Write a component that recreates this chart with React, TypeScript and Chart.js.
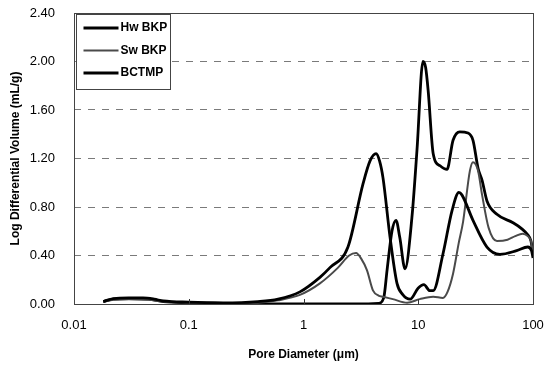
import React, { useEffect, useRef } from 'react';
import { Chart, registerables } from 'chart.js';

Chart.register(...registerables);

const seriesLabels = ['Hw BKP', 'Sw BKP', 'BCTMP'];
const seriesColors = ['#000000', '#4a4a4a', '#000000'];
const seriesWidths = [2.8, 2.0, 2.8];

const hwX = [0.018, 0.022, 0.03, 0.04, 0.05, 0.06, 0.1, 0.2, 0.4, 0.6, 0.93, 1.39, 1.7, 2.44, 3.3, 3.8, 4.29, 4.6, 4.93, 5.68, 6.53, 7.3, 8.5, 9.96, 11.2, 12.6, 13.5, 16.4, 19.7, 22.6, 24, 30, 39.7, 51.5, 72, 90, 97, 100];
const hwY = [0.02, 0.045, 0.05, 0.05, 0.04, 0.025, 0.015, 0.01, 0.02, 0.04, 0.10, 0.22, 0.30, 0.47, 0.99, 1.18, 1.24, 1.18, 1.04, 0.55, 0.17, 0.08, 0.04, 0.13, 0.16, 0.11, 0.11, 0.41, 0.77, 0.92, 0.90, 0.69, 0.47, 0.41, 0.44, 0.47, 0.44, 0.38];

const swX = [0.018, 0.022, 0.03, 0.045, 0.06, 0.1, 0.2, 0.4, 0.6, 0.93, 1.39, 2.0, 2.5, 2.87, 3.2, 3.57, 4.04, 4.5, 4.93, 6, 8, 10.3, 13.5, 16.4, 18, 20.1, 22.5, 24.6, 28.2, 30, 33.2, 36, 41, 48.5, 60, 70, 81, 90, 96, 100];
const swY = [0.02, 0.035, 0.04, 0.035, 0.02, 0.01, 0.005, 0.01, 0.03, 0.075, 0.17, 0.30, 0.40, 0.42, 0.37, 0.28, 0.11, 0.07, 0.06, 0.04, 0.01, 0.04, 0.06, 0.05, 0.10, 0.25, 0.50, 0.68, 1.10, 1.17, 1.10, 0.90, 0.63, 0.52, 0.53, 0.56, 0.58, 0.56, 0.52, 0.42];

const bcX = [0.018, 0.022, 0.03, 0.045, 0.06, 0.1, 0.2, 0.5, 1, 3, 4.5, 5, 5.35, 5.9, 6.4, 6.9, 7.67, 8.8, 9.75, 11.0, 11.6, 12.2, 13.5, 15.5, 17.8, 20.1, 23, 27.1, 30, 33.2, 36, 39.7, 48.5, 67, 80, 90, 96, 100];
const bcY = [0.02, 0.04, 0.045, 0.04, 0.02, 0.01, 0.005, 0.0, 0.0, 0.0, 0.005, 0.05, 0.28, 0.60, 0.69, 0.55, 0.29, 0.71, 1.27, 2.0, 1.95, 1.76, 1.24, 1.14, 1.11, 1.35, 1.42, 1.41, 1.35, 1.12, 1.02, 0.85, 0.74, 0.67, 0.62, 0.57, 0.52, 0.41];

const xTicks = [0.01, 0.1, 1, 10, 100];
const yTicks = [0, 0.4, 0.8, 1.2, 1.6, 2.0, 2.4];

const FONT = '"Liberation Sans", Arial, sans-serif';

const toPoints = (xs: number[], ys: number[]) => xs.map((x, i) => ({ x, y: ys[i] }));

const framePlugin = {
  id: 'frame',
  afterDraw(chart: any) {
    const { ctx, chartArea } = chart;
    const { left, top, right, bottom } = chartArea;
    ctx.save();
    const xs = chart.scales.x;
    ctx.strokeStyle = '#333';
    ctx.lineWidth = 1;
    xTicks.forEach((v) => {
      const px = Math.round(xs.getPixelForValue(v)) + 0.5;
      ctx.beginPath();
      ctx.moveTo(px, bottom);
      ctx.lineTo(px, bottom - 5);
      ctx.stroke();
    });
    ctx.strokeStyle = '#444';
    ctx.lineWidth = 1;
    ctx.strokeRect(Math.round(left) + 0.5, Math.round(top) + 0.5, Math.round(right - left), Math.round(bottom - top));
    const lx = Math.round(left) + 2.5;
    const ly = Math.round(top) + 1.5;
    const lw = 94;
    const lh = 75;
    ctx.fillStyle = '#fff';
    ctx.fillRect(lx, ly, lw, lh);
    ctx.strokeStyle = '#444';
    ctx.strokeRect(lx, ly, lw, lh);
    ctx.font = `bold 12px ${FONT}`;
    ctx.textBaseline = 'middle';
    ctx.textAlign = 'left';
    seriesLabels.forEach((lab, i) => {
      const y = ly + 13.5 + i * 22.5;
      ctx.strokeStyle = seriesColors[i];
      ctx.lineWidth = seriesWidths[i];
      ctx.beginPath();
      ctx.moveTo(lx + 7, y);
      ctx.lineTo(lx + 42, y);
      ctx.stroke();
      ctx.fillStyle = '#000';
      ctx.fillText(lab, lx + 44, y);
    });
    ctx.restore();
  },
};

export default function App() {
  const ref = useRef<HTMLCanvasElement | null>(null);
  useEffect(() => {
    if (!ref.current) return;
    const datasets = [
      { label: seriesLabels[0], data: toPoints(hwX, hwY) },
      { label: seriesLabels[1], data: toPoints(swX, swY) },
      { label: seriesLabels[2], data: toPoints(bcX, bcY) },
    ].map((d, i) => ({
      ...d,
      showLine: true,
      borderColor: seriesColors[i],
      backgroundColor: seriesColors[i],
      borderWidth: seriesWidths[i],
      pointRadius: 0,
      tension: 0.4,
      cubicInterpolationMode: 'monotone' as const,
      fill: false,
    }));
    const chart = new Chart(ref.current, {
      type: 'scatter',
      data: { datasets },
      options: {
        responsive: false,
        animation: false,
        layout: { padding: { left: 0, right: 11, top: 13, bottom: 0 } },
        plugins: { legend: { display: false }, tooltip: { enabled: false } },
        scales: {
          x: {
            type: 'logarithmic',
            min: 0.01,
            max: 100,
            afterBuildTicks: (s: any) => {
              s.ticks = xTicks.map((v) => ({ value: v }));
            },
            ticks: {
              callback: (v: any) => String(Number(v)),
              font: { family: FONT, size: 13 },
              color: '#000',
              padding: 14,
              maxRotation: 0,
              autoSkip: false,
            },
            grid: { display: false, drawTicks: false },
            border: { display: false },
            title: {
              display: true,
              text: 'Pore Diameter (μm)',
              font: { family: FONT, size: 12, weight: 'bold' },
              color: '#000',
              padding: { top: 0, bottom: 4 },
            },
            afterFit: (s: any) => {
              s.height = 62;
              s.paddingLeft = 0;
              s.paddingRight = 0;
            },
          },
          y: {
            type: 'linear',
            min: 0,
            max: 2.4,
            afterBuildTicks: (s: any) => {
              s.ticks = yTicks.map((v) => ({ value: v }));
            },
            ticks: {
              callback: (v: any) => Number(v).toFixed(2),
              font: { family: FONT, size: 13 },
              color: '#000',
              padding: 19,
            },
            grid: {
              drawTicks: false,
              color: (c: any) =>
                c.tick && (c.tick.value === 0 || Math.abs(c.tick.value - 2.4) < 1e-6) ? 'rgba(0,0,0,0)' : '#7a7a7a',
              lineWidth: 1,
            },
            border: { display: false, dash: [7, 7] },
            title: {
              display: true,
              text: 'Log Differential Volume (mL/g)',
              font: { family: FONT, size: 12, weight: 'bold' },
              color: '#000',
              padding: { top: 8, bottom: 0 },
            },
            afterFit: (s: any) => {
              s.width = 74;
              s.paddingTop = 0;
              s.paddingBottom = 0;
            },
          },
        },
      },
      plugins: [framePlugin],
    });
    return () => chart.destroy();
  }, []);
  return (
    <div style={{ position: 'fixed', left: 0, top: 0, width: 544, height: 366, background: '#fff' }}>
      <canvas ref={ref} width={544} height={366} style={{ display: 'block' }} />
    </div>
  );
}
